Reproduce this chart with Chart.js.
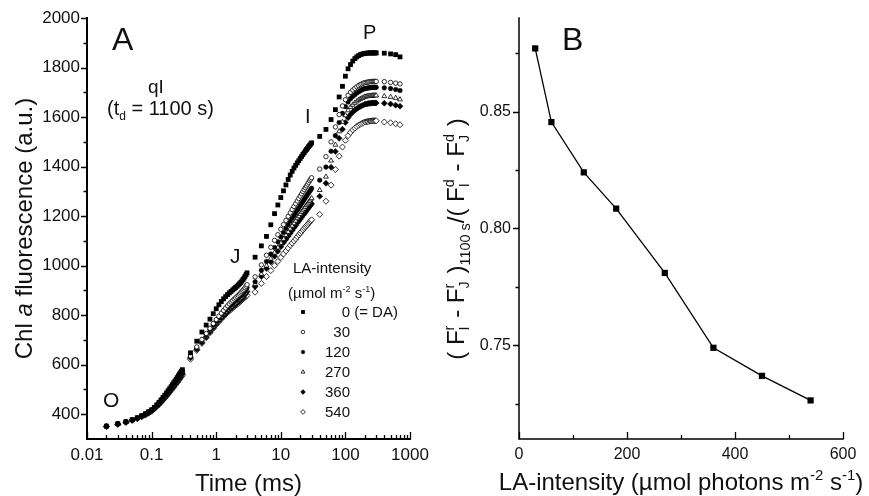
<!DOCTYPE html>
<html>
<head>
<meta charset="utf-8">
<script src="https://cdn.jsdelivr.net/npm/chart.js@4/dist/chart.umd.min.js"></script>
<style>
  html, body { margin: 0; padding: 0; background: #fff; }
  #wrap { position: relative; width: 869px; height: 496px; }
  canvas { position: absolute; top: 0; }
  #cA { left: 0; }
  #cB { left: 440px; }
</style>
</head>
<body>
<div id="wrap">
  <canvas id="cA" width="440" height="496"></canvas>
  <canvas id="cB" width="429" height="496"></canvas>
</div>
<script>
// ---- panel A: OJIP transients, time in ms ----
const timeMs = [
  0.02, 0.03, 0.04, 0.05, 0.06, 0.07, 0.08, 0.09, 0.1,
  0.11, 0.12, 0.13, 0.14, 0.15, 0.16, 0.17, 0.18, 0.19, 0.2,
  0.21, 0.22, 0.23, 0.24, 0.25, 0.26, 0.27, 0.28, 0.29, 0.3,
  0.4, 0.5, 0.6, 0.7, 0.8, 0.9, 1, 1.1, 1.2, 1.3, 1.4, 1.5, 1.6, 1.7,
  1.8, 1.9, 2, 2.1, 2.2, 2.3, 2.4, 2.5, 2.6, 2.7, 2.8, 2.9, 3,
  4, 5, 6, 7, 8, 9, 10, 11, 12, 13, 14, 15, 16, 17,
  18, 19, 20, 21, 22, 23, 24, 25, 26, 27, 28, 29, 30,
  40, 50, 60, 70, 80, 90, 100, 110, 120, 130, 140, 150, 160, 170,
  180, 190, 200, 210, 220, 230, 240, 250, 260, 270, 280, 290, 300,
  400, 500, 600, 700
];

const fDA = [
  352, 362, 370, 378, 386, 394, 402, 410, 418, 428, 438, 448, 458, 468, 477, 486, 495, 503, 511,
  519, 527, 534, 541, 548, 555, 562, 568, 574, 580,
  648, 695, 732, 760, 784, 806, 826, 842, 855, 866, 875, 883, 890, 896, 902, 907, 912, 917, 922,
  927, 932, 938, 944, 950, 957, 964, 971,
  1034, 1080, 1118, 1165, 1210, 1245, 1275, 1302, 1326, 1348, 1366, 1381, 1394, 1405, 1415, 1424,
  1433, 1441, 1449, 1456, 1463, 1469, 1475, 1481, 1486, 1491, 1496,
  1522, 1550, 1590, 1630, 1681, 1724, 1765, 1795, 1812, 1826, 1836, 1843, 1848, 1852, 1854, 1856,
  1857, 1858, 1858, 1859, 1859, 1859, 1859, 1859, 1859, 1859, 1859,
  1858, 1855, 1852, 1843
];
const f30 = [
  351, 361, 369, 377, 385, 393, 401, 409, 417, 426, 436, 446, 456, 465, 474, 483, 492, 500, 508,
  515, 523, 530, 537, 544, 551, 557, 563, 569, 575,
  635, 672, 702, 726, 747, 766, 782, 796, 808, 819, 829, 838, 846, 853, 859, 865, 870, 875, 880,
  885, 890, 895, 900, 905, 911, 917, 923,
  955, 1003, 1042, 1074, 1102, 1125, 1147, 1166, 1183, 1199, 1213, 1227, 1239, 1250, 1261, 1271,
  1281, 1290, 1299, 1307, 1315, 1322, 1329, 1336, 1343, 1349, 1355,
  1390, 1440, 1500, 1560, 1610, 1645, 1670, 1688, 1700, 1709, 1716, 1722, 1727, 1731, 1734, 1737,
  1739, 1740, 1741, 1742, 1743, 1743, 1744, 1744, 1744, 1744, 1744,
  1743, 1740, 1737, 1734
];
const f120 = [
  352, 361, 369, 377, 385, 392, 400, 408, 416, 425, 435, 445, 454, 463, 472, 481, 490, 498, 505,
  513, 520, 527, 534, 541, 548, 554, 560, 566, 572,
  632, 668, 697, 721, 741, 760, 775, 789, 800, 811, 821, 829, 837, 844, 849, 855, 860, 865, 870,
  875, 880, 885, 890, 895, 901, 907, 912,
  935, 981, 1017, 1047, 1073, 1096, 1116, 1134, 1150, 1165, 1179, 1191, 1202, 1213, 1224, 1233,
  1242, 1251, 1259, 1267, 1274, 1281, 1288, 1294, 1300, 1306, 1312,
  1345, 1398, 1462, 1525, 1578, 1615, 1642, 1661, 1674, 1683, 1690, 1697, 1702, 1706, 1710, 1713,
  1715, 1716, 1717, 1718, 1719, 1719, 1720, 1720, 1720, 1720, 1720,
  1718, 1715, 1711, 1707
];
const f270 = [
  351, 360, 368, 376, 384, 391, 399, 407, 415, 424, 434, 443, 452, 461, 470, 479, 487, 495, 502,
  510, 517, 524, 531, 537, 544, 550, 556, 562, 568,
  630, 665, 693, 716, 736, 754, 769, 782, 793, 804, 813, 821, 829, 835, 841, 846, 851, 856, 861,
  866, 871, 876, 881, 886, 891, 897, 902,
  925, 967, 1000, 1028, 1052, 1073, 1092, 1108, 1123, 1136, 1149, 1161, 1171, 1181, 1191, 1199,
  1208, 1216, 1223, 1230, 1237, 1244, 1250, 1255, 1261, 1267, 1272,
  1305, 1359, 1424, 1488, 1542, 1580, 1607, 1627, 1640, 1649, 1657, 1663, 1669, 1673, 1676, 1679,
  1682, 1683, 1684, 1685, 1686, 1686, 1687, 1687, 1687, 1687, 1687,
  1684, 1681, 1677, 1671
];
const f360 = [
  351, 360, 368, 376, 383, 391, 398, 406, 414, 423, 432, 441, 450, 459, 468, 477, 485, 493, 500,
  507, 514, 521, 528, 534, 541, 547, 553, 559, 565,
  628, 662, 690, 712, 732, 749, 764, 777, 788, 798, 807, 815, 822, 829, 834, 839, 844, 849, 854,
  859, 864, 869, 874, 879, 884, 890, 895,
  915, 956, 988, 1015, 1038, 1058, 1076, 1092, 1106, 1119, 1131, 1142, 1153, 1162, 1172, 1180,
  1188, 1196, 1203, 1210, 1216, 1223, 1229, 1234, 1240, 1245, 1250,
  1280, 1333, 1397, 1461, 1514, 1551, 1578, 1597, 1610, 1620, 1627, 1634, 1639, 1643, 1646, 1649,
  1652, 1653, 1654, 1655, 1656, 1656, 1657, 1657, 1657, 1657, 1657,
  1656, 1653, 1648, 1644
];
const f540 = [
  350, 359, 367, 375, 382, 389, 396, 404, 412, 421, 430, 439, 448, 457, 465, 473, 481, 489, 496,
  503, 510, 517, 523, 529, 535, 541, 547, 553, 558,
  622, 658, 686, 709, 729, 746, 761, 773, 784, 794, 803, 810, 817, 823, 829, 834, 839, 844, 848,
  853, 857, 861, 865, 869, 873, 877, 880,
  893, 928, 956, 980, 1000, 1017, 1033, 1047, 1059, 1071, 1082, 1091, 1100, 1108, 1117, 1124,
  1131, 1138, 1144, 1150, 1156, 1161, 1166, 1171, 1176, 1181, 1185,
  1207, 1260, 1325, 1388, 1442, 1479, 1506, 1525, 1538, 1548, 1555, 1562, 1567, 1571, 1574, 1577,
  1580, 1581, 1582, 1583, 1584, 1584, 1585, 1585, 1585, 1585, 1585,
  1580, 1577, 1573, 1569
];
const legendNums = ['0', '30', '120', '270', '360', '540'];
const xTicksA = [0.01, 0.1, 1, 10, 100, 1000];
const yTicksA = [400, 600, 800, 1000, 1200, 1400, 1600, 1800, 2000];

// ---- panel B ----
const laIntensity = [30, 60, 120, 180, 270, 360, 450, 540];
const ratio1100 = [0.877, 0.8455, 0.824, 0.8085, 0.781, 0.749, 0.737, 0.7265];
const xTicksB = [0, 200, 400, 600];
const yTicksB = [0.75, 0.80, 0.85];

const FAM = '"Liberation Sans", Arial, Helvetica, sans-serif';
const INK = '#111';
const font = (px, it) => (it ? 'italic ' : '') + px + 'px ' + FAM;

// rich text: parts = [{t, s, dy, i} | {stack:[sub, sup]}]
function measureParts(ctx, parts, base) {
  let w = 0;
  parts.forEach(p => {
    if (p.stack) {
      ctx.font = font(base * 0.6);
      p.w = Math.max(ctx.measureText(p.stack[0]).width, ctx.measureText(p.stack[1]).width) + base * 0.05;
    } else {
      ctx.font = font(base * (p.s || 1), p.i);
      p.w = ctx.measureText(p.t).width;
    }
    w += p.w;
  });
  return w;
}
function drawParts(ctx, parts, base, x, y) {
  parts.forEach(p => {
    if (p.stack) {
      ctx.font = font(base * 0.6);
      ctx.fillText(p.stack[1], x, y - base * 0.42);
      ctx.fillText(p.stack[0], x, y + base * 0.22);
    } else {
      ctx.font = font(base * (p.s || 1), p.i);
      ctx.fillText(p.t, x, y + (p.dy || 0) * base);
    }
    x += p.w;
  });
}
function richText(ctx, parts, base, x, y, align, rot) {
  ctx.save();
  ctx.fillStyle = INK;
  ctx.textAlign = 'left';
  ctx.textBaseline = 'alphabetic';
  const w = measureParts(ctx, parts, base);
  ctx.translate(x, y);
  if (rot) ctx.rotate(-Math.PI / 2);
  const x0 = align === 'center' ? -w / 2 : align === 'right' ? -w : 0;
  drawParts(ctx, parts, base, x0, rot ? base * 0.36 : 0);
  ctx.restore();
}

// axis lines plus major/minor tick marks through the chart scales
function axesPlugin(spec) {
  return {
    id: 'axesDecor',
    afterDraw(chart) {
      const {ctx, chartArea: a, scales} = chart;
      ctx.save();
      ctx.strokeStyle = '#000';
      ctx.lineCap = 'square';
      ctx.lineWidth = spec.axisWidth;
      ctx.beginPath();
      ctx.moveTo(a.left, a.top);
      ctx.lineTo(a.left, a.bottom);
      ctx.lineTo(a.right, a.bottom);
      ctx.stroke();
      ctx.lineCap = 'butt';
      ctx.lineWidth = spec.tickWidth;
      ctx.beginPath();
      const xt = (vals, len) => vals.forEach(v => {
        const px = Math.round(scales.x.getPixelForValue(v)) + 0.5;
        ctx.moveTo(px, a.bottom); ctx.lineTo(px, a.bottom - len);
      });
      const yt = (vals, len) => vals.forEach(v => {
        const py = Math.round(scales.y.getPixelForValue(v)) + 0.5;
        ctx.moveTo(a.left - len, py); ctx.lineTo(a.left + spec.yIn, py);
      });
      xt(spec.xMajor, 7); xt(spec.xMinor, 4);
      yt(spec.yMajor, 6); yt(spec.yMinor, 3.5);
      ctx.stroke();
      ctx.restore();
      if (spec.extra) spec.extra(chart);
    }
  };
}

const logMinor = [];
for (let d = 0.01; d < 1000; d *= 10) {
  for (let k = 2; k <= 9; k++) logMinor.push(+(k * d).toPrecision(3));
}

const pointSpecs = [
  {style: 'rect', r: 3.4, fill: '#000', bw: 0},
  {style: 'circle', r: 2.2, fill: '#fff', bw: 0.8},
  {style: 'circle', r: 2.3, fill: '#000', bw: 0.5},
  {style: 'triangle', r: 2.8, fill: '#fff', bw: 0.8},
  {style: 'rectRot', r: 3.0, fill: '#000', bw: 0.5},
  {style: 'rectRot', r: 3.0, fill: '#fff', bw: 0.8}
];
const seriesA = [fDA, f30, f120, f270, f360, f540];

function drawMarker(ctx, spec, x, y, k) {
  ctx.save();
  ctx.fillStyle = spec.fill;
  ctx.strokeStyle = '#000';
  ctx.lineWidth = spec.bw;
  if (Chart.helpers && Chart.helpers.drawPoint) {
    Chart.helpers.drawPoint(ctx, {pointStyle: spec.style, radius: spec.r * k, rotation: 0, borderWidth: spec.bw}, x, y);
  }
  ctx.restore();
}

function annotateA(chart) {
  const ctx = chart.ctx;
  richText(ctx, [{t: 'A'}], 32, 112, 50);
  richText(ctx, [{t: 'qI'}], 19, 148, 93);
  richText(ctx, [{t: '(t'}, {t: 'd', s: 0.6, dy: 0.25}, {t: ' = 1100 s)'}], 20, 107, 115);
  richText(ctx, [{t: 'O'}], 21, 103, 407);
  richText(ctx, [{t: 'J'}], 21, 230, 263);
  richText(ctx, [{t: 'I'}], 20, 305, 123);
  richText(ctx, [{t: 'P'}], 20, 363, 39);
  // legend
  richText(ctx, [{t: 'LA-intensity'}], 15, 293, 273);
  richText(ctx, [{t: '(µmol m'}, {t: '-2', s: 0.6, dy: -0.4}, {t: ' s'}, {t: '-1', s: 0.6, dy: -0.4}, {t: ')'}], 15, 288, 298);
  legendNums.forEach((n, i) => {
    const ym = 312 + 20 * i;
    drawMarker(ctx, pointSpecs[i], 303, ym, 0.8);
    richText(ctx, [{t: n}], 15, 350, ym + 5.4, 'right');
    if (i === 0) richText(ctx, [{t: ' (= DA)'}], 15, 350, ym + 5.4);
  });
  // axis titles
  richText(ctx, [{t: 'Time (ms)'}], 24, 248.5, 491, 'center');
  richText(ctx, [{t: 'Chl '}, {t: 'a', i: true}, {t: ' fluorescence (a.u.)'}], 24, 23, 228.5, 'center', true);
}

function annotateB(chart) {
  const ctx = chart.ctx;
  richText(ctx, [{t: 'B'}], 32, 122, 50);
  richText(ctx, [{t: 'LA-intensity (µmol photons m'}, {t: '-2', s: 0.62, dy: -0.4}, {t: ' s'},
    {t: '-1', s: 0.62, dy: -0.4}, {t: ')'}], 24, 241, 490, 'center');
  richText(ctx, [
    {t: '( F'}, {stack: ['I', 'r']}, {t: ' - F'}, {stack: ['J', 'r']}, {t: ' )'},
    {t: '1100 s', s: 0.6, dy: 0.25}, {t: '/( F'}, {stack: ['I', 'd']}, {t: ' - F'},
    {stack: ['J', 'd']}, {t: ' )'}
  ], 24, 15, 239, 'center', true);
}

const tickFontA = {family: FAM, size: 17};
const tickFontB = {family: FAM, size: 16};

new Chart(document.getElementById('cA'), {
  type: 'scatter',
  data: {
    datasets: seriesA.map((vals, i) => ({
      label: legendNums[i],
      data: timeMs.map((t, k) => ({x: t, y: vals[k]})),
      pointStyle: pointSpecs[i].style,
      pointRadius: pointSpecs[i].r,
      pointBackgroundColor: pointSpecs[i].fill,
      pointBorderColor: '#000',
      pointBorderWidth: pointSpecs[i].bw,
      showLine: false
    }))
  },
  options: {
    responsive: false,
    animation: false,
    events: [],
    layout: {padding: {left: 0, right: 30, top: 18, bottom: 0}},
    plugins: {legend: {display: false}, tooltip: {enabled: false}},
    scales: {
      x: {
        type: 'logarithmic', min: 0.01, max: 1000,
        afterBuildTicks: s => { s.ticks = xTicksA.map(v => ({value: v})); },
        afterFit: s => { s.height = 57; },
        grid: {display: false, drawTicks: false},
        border: {display: false},
        ticks: {autoSkip: false, maxRotation: 0, padding: 6, color: INK, font: tickFontA,
          callback: v => String(v)}
      },
      y: {
        type: 'linear', min: 300, max: 2000,
        afterBuildTicks: s => { s.ticks = yTicksA.map(v => ({value: v})); },
        afterFit: s => { s.width = 87; },
        grid: {display: false, drawTicks: false},
        border: {display: false},
        ticks: {padding: 7, color: INK, font: tickFontA, callback: v => String(v)}
      }
    }
  },
  plugins: [axesPlugin({
    axisWidth: 2, tickWidth: 1.3, yIn: 0,
    xMajor: xTicksA, xMinor: logMinor,
    yMajor: yTicksA, yMinor: [500, 700, 900, 1100, 1300, 1500, 1700, 1900],
    extra: annotateA
  })]
});

new Chart(document.getElementById('cB'), {
  type: 'scatter',
  data: {
    datasets: [{
      data: laIntensity.map((x, i) => ({x, y: ratio1100[i]})),
      showLine: true,
      borderColor: '#000',
      borderWidth: 1.3,
      pointStyle: 'rect',
      pointRadius: 4.4,
      pointBackgroundColor: '#000',
      pointBorderWidth: 0
    }]
  },
  options: {
    responsive: false,
    animation: false,
    events: [],
    layout: {padding: {left: 0, right: 26, top: 18, bottom: 0}},
    plugins: {legend: {display: false}, tooltip: {enabled: false}},
    scales: {
      x: {
        type: 'linear', min: 0, max: 600,
        afterBuildTicks: s => { s.ticks = xTicksB.map(v => ({value: v})); },
        afterFit: s => { s.height = 57; },
        grid: {display: false, drawTicks: false},
        border: {display: false},
        ticks: {autoSkip: false, maxRotation: 0, padding: 6, color: INK, font: tickFontB}
      },
      y: {
        type: 'linear', min: 0.71, max: 0.89,
        afterBuildTicks: s => { s.ticks = yTicksB.map(v => ({value: v})); },
        afterFit: s => { s.width = 79; },
        grid: {display: false, drawTicks: false},
        border: {display: false},
        ticks: {padding: 8, color: INK, font: tickFontB, callback: v => v.toFixed(2)}
      }
    }
  },
  plugins: [axesPlugin({
    axisWidth: 1.5, tickWidth: 1.3, yIn: 0,
    xMajor: xTicksB, xMinor: [100, 300, 500],
    yMajor: yTicksB, yMinor: [0.725, 0.775, 0.825, 0.875],
    extra: annotateB
  })]
});
</script>
</body>
</html>
